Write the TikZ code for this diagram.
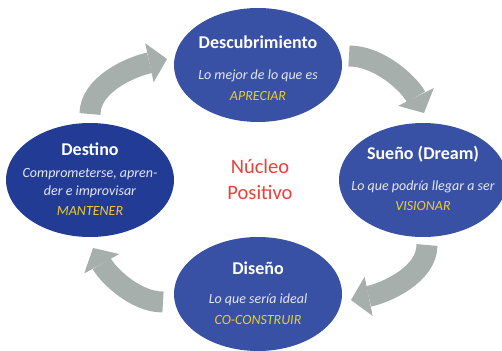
\documentclass[tikz,border=0pt]{standalone}
\usepackage{fontspec}
\setmainfont{Carlito}
\usetikzlibrary{arrows.meta,shapes.geometric}
\definecolor{ellblue}{RGB}{57,81,165}
\definecolor{elldark}{RGB}{34,60,150}
\definecolor{kw}{RGB}{236,205,40}
\definecolor{nuc}{RGB}{232,65,60}
\definecolor{arrgray}{RGB}{167,175,173}
\definecolor{subtxt}{RGB}{228,231,242}
\tikzset{
  stage/.style={ellipse, fill=ellblue, draw=none, inner sep=0pt, minimum width=168pt, minimum height=114pt},
  ttl/.style={text=white, font=\fontsize{18}{20}\selectfont\bfseries, inner sep=0pt},
  sub/.style={text=subtxt, font=\fontsize{14}{16}\selectfont\itshape, inner sep=0pt},
  kwd/.style={text=kw, font=\fontsize{14}{16}\selectfont\itshape, inner sep=0pt},
  nucl/.style={text=nuc, font=\fontsize{20.5}{22}\selectfont, inner sep=0pt},
  cyc/.style={draw=arrgray, line width=21pt, line cap=butt,
    -{Triangle[length=18pt,width=40pt,line width=0pt]}}
}
\begin{document}
\begin{tikzpicture}[x=1pt,y=-1pt]
\useasboundingbox (0,0) rectangle (502,350);
% ellipses
\node[stage] (desc) at (258,65) {};
\node[stage, fill=elldark] (dest) at (90,180) {};
\node[stage] (suen) at (423,180) {};
\node[stage] (dise) at (258,294) {};
% texts
\node[ttl] (t1) at (258,42) {Descubrimiento};
\node[sub] (s1) at (258,76) {Lo mejor de lo que es};
\node[kwd] (k1) at (258,96) {APRECIAR};
\node[ttl] (t2) at (90,149) {Destino};
\node[sub] (s2a) at (90,174) {Comprometerse, apren-};
\node[sub] (s2b) at (90,192) {der e improvisar};
\node[kwd] (k2) at (90,211) {MANTENER};
\node[ttl] (t3) at (423,154) {Sueño (Dream)};
\node[sub] (s3) at (423,187) {Lo que podría llegar a ser};
\node[kwd] (k3) at (423,206) {VISIONAR};
\node[ttl] (t4) at (258,268) {Diseño};
\node[sub] (s4) at (258,300) {Lo que sería ideal};
\node[kwd] (k4) at (258,320) {CO-CONSTRUIR};
\node[nucl] (n1) at (260,166) {Núcleo};
\node[nucl] (n2) at (260,192) {Positivo};
% arrow anchors
\coordinate (a1s) at (90,114);
\coordinate (a1e) at (167,59);
\coordinate (a2s) at (349,56);
\coordinate (a2e) at (424,113);
\coordinate (a3s) at (427,245);
\coordinate (a3e) at (351,300);
\coordinate (a4s) at (163,302);
\coordinate (a4e) at (93,248);
\draw[cyc] (a1s) .. controls (90,85) and (130,67) .. (a1e);
\draw[cyc] (a2s) .. controls (380,56) and (410,85) .. (a2e);
\draw[cyc] (a3s) .. controls (427,275) and (385,293) .. (a3e);
\draw[cyc] (a4s) .. controls (135,302) and (108,275) .. (a4e);
\end{tikzpicture}
\end{document}
